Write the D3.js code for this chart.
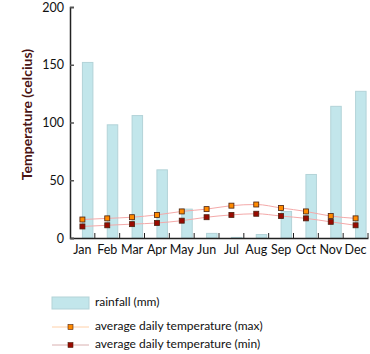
<!DOCTYPE html>
<html>
<head>
<meta charset="utf-8">
<script src="https://cdn.jsdelivr.net/npm/d3@7"></script>
<style>
  body { margin: 0; background: #fff; }
  text { font-family: Lato, "DejaVu Sans", sans-serif; }
</style>
</head>
<body>
<div id="chart"></div>
<script>
// Data
const months = ["Jan", "Feb", "Mar", "Apr", "May", "Jun", "Jul", "Aug", "Sep", "Oct", "Nov", "Dec"];
const rainfall = [152, 98, 106, 59, 25, 4, 0.5, 3, 23, 55, 114, 127];
const tempMax = [16, 17, 18, 20, 23, 25, 28, 29, 26, 23, 19, 17];
const tempMin = [10, 11, 12, 13, 15, 18, 20, 21, 19, 17, 14, 11];
const yTicks = [0, 50, 100, 150, 200];
const legendLabels = ["rainfall (mm)", "average daily temperature (max)", "average daily temperature (min)"];

const width = 370, height = 354;
const margin = { top: 7, right: 2, bottom: 116, left: 70 };

const svg = d3.select("#chart").append("svg")
    .attr("width", width)
    .attr("height", height);

// Scales
const x = d3.scaleBand()
    .domain(months)
    .range([margin.left, width - margin.right]);

const y = d3.scaleLinear()
    .domain([0, 200])
    .range([height - margin.bottom, margin.top]);

const cx = m => x(m) + x.bandwidth() / 2;

// Rainfall bars (start at the band centre, extend right)
svg.append("g")
    .selectAll("rect")
    .data(months)
    .enter().append("rect")
    .attr("x", m => cx(m))
    .attr("y", (m, i) => y(rainfall[i]))
    .attr("width", 10.5)
    .attr("height", (m, i) => y(0) - y(rainfall[i]))
    .attr("fill", "#c2e6eb")
    .attr("stroke", "#b3d3d8")
    .attr("stroke-width", 1);

// Temperature lines
const line = d3.line()
    .x((d, i) => cx(months[i]))
    .y(d => y(d))
    .curve(d3.curveMonotoneX);

const series = [
    { values: tempMax, fill: "#ff8a00" },
    { values: tempMin, fill: "#9a0a00" }
];

series.forEach(s => {
    svg.append("path")
        .datum(s.values)
        .attr("fill", "none")
        .attr("stroke", "#f4a9a9")
        .attr("stroke-width", 1)
        .attr("d", line);

    svg.append("g")
        .selectAll("rect")
        .data(s.values)
        .enter().append("rect")
        .attr("x", (d, i) => cx(months[i]) - 2.5)
        .attr("y", d => y(d) - 2.5)
        .attr("width", 5)
        .attr("height", 5)
        .attr("fill", s.fill)
        .attr("stroke", "#4a2010")
        .attr("stroke-width", 0.8);
});

// Axes
const xAxis = svg.append("g")
    .attr("transform", `translate(0, ${y(0)})`)
    .call(d3.axisBottom(x).tickSize(0).tickPadding(7));
xAxis.select(".domain").attr("stroke", "#222").attr("stroke-width", 1.5);
xAxis.selectAll("text").style("font-size", "12.5px").attr("fill", "#111");

// inward ticks at band boundaries
svg.append("g")
    .selectAll("line")
    .data(months.slice(1).concat(["end"]))
    .enter().append("line")
    .attr("x1", m => m === "end" ? width - margin.right : x(m))
    .attr("x2", m => m === "end" ? width - margin.right : x(m))
    .attr("y1", y(0))
    .attr("y2", y(0) - 5)
    .attr("stroke", "#222");

const yAxis = svg.append("g")
    .attr("transform", `translate(${margin.left}, 0)`)
    .call(d3.axisRight(y).tickValues(yTicks).tickSize(4).tickFormat(d3.format("d")));
yAxis.select(".domain").attr("stroke", "#222").attr("stroke-width", 1.5);
yAxis.selectAll(".tick line").attr("stroke", "#555").attr("stroke-width", 1.5);
yAxis.selectAll("text")
    .attr("x", -6)
    .attr("text-anchor", "end")
    .style("font-size", "12.5px")
    .attr("fill", "#111");

// Y axis title
svg.append("text")
    .attr("transform", `translate(28, ${(y(0) + y(200)) / 2 - 8}) rotate(-90)`)
    .attr("text-anchor", "middle")
    .attr("dominant-baseline", "middle")
    .style("font-size", "14px")
    .style("font-weight", "bold")
    .attr("fill", "#4a1414")
    .text("Temperature (celcius)");

// Legend
const legend = svg.append("g").attr("transform", "translate(52, 0)");

legend.append("rect")
    .attr("x", 0).attr("y", 297)
    .attr("width", 37).attr("height", 12)
    .attr("fill", "#c2e6eb")
    .attr("stroke", "#b3d3d8");

const legendLines = [
    { yy: 327, stroke: "#ffd0a8", fill: "#ff8a00" },
    { yy: 345, stroke: "#d9b0b0", fill: "#9a0a00" }
];
legendLines.forEach(l => {
    legend.append("line")
        .attr("x1", 0).attr("x2", 37)
        .attr("y1", l.yy).attr("y2", l.yy)
        .attr("stroke", l.stroke);
    legend.append("rect")
        .attr("x", 16).attr("y", l.yy - 2.5)
        .attr("width", 5).attr("height", 5)
        .attr("fill", l.fill)
        .attr("stroke", "#4a2010")
        .attr("stroke-width", 0.6);
});

[303, 327, 345].forEach((yy, i) => {
    legend.append("text")
        .attr("x", 43)
        .attr("y", yy)
        .attr("dominant-baseline", "middle")
        .style("font-size", "12px")
        .attr("fill", "#111")
        .text(legendLabels[i]);
});
</script>
</body>
</html>
